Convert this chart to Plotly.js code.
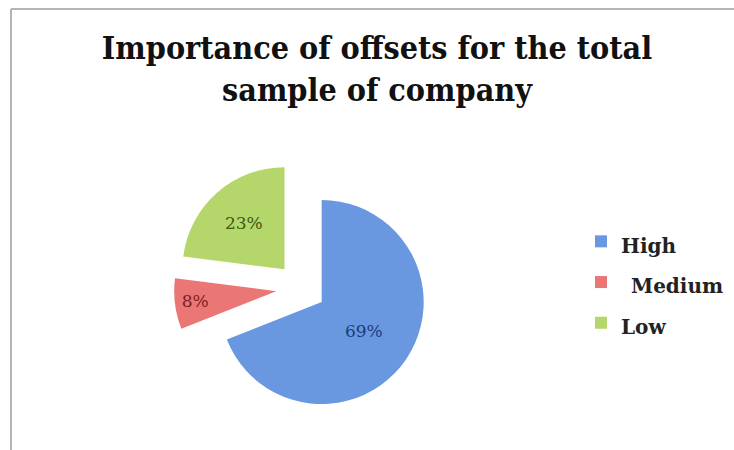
<!DOCTYPE html>
<html>
<head>
<meta charset="utf-8">
<script src="https://cdn.plot.ly/plotly-3.0.1.min.js"></script>
<style>html,body{margin:0;padding:0;background:#fff;}#chart{width:734px;height:450px;}</style>
</head>
<body>
<div id="chart"></div>
<script>
// Data
var categories = ['High', '\u2002Medium', 'Low'];
var shares = [69, 8, 23];
var sliceColors = ['#6a98e0', '#ea7775', '#b5d66a'];
var labelColors = ['#1d3c78', '#7c1f1f', '#3b5a12'];
var pulls = [0.245, 0.245, 0.245];
var chartTitle = 'Importance of offsets for the total<br>sample of company';

var W = 734, H = 450;

var trace = {
  type: 'pie',
  labels: categories.map(function (c) { return '<span style="font-size:20px">' + c + '</span>'; }),
  values: shares,
  sort: false,
  direction: 'clockwise',
  rotation: 0,
  pull: pulls,
  marker: { colors: sliceColors, line: { width: 0 } },
  textinfo: 'percent',
  textposition: 'inside',
  insidetextorientation: 'horizontal',
  insidetextfont: { family: 'DejaVu Serif', size: 17, color: labelColors },
  domain: { x: [174 / W, 428 / W], y: [1 - 415 / H, 1 - 161 / H] },
  hoverinfo: 'label+percent'
};

var layout = {
  width: W, height: H,
  margin: { l: 0, r: 0, t: 0, b: 0 },
  paper_bgcolor: '#ffffff',
  plot_bgcolor: '#ffffff',
  title: {
    text: chartTitle,
    x: 377 / W, xanchor: 'center',
    y: 1 - 59 / H, yanchor: 'top',
    font: { family: 'DejaVu Serif Condensed, DejaVu Serif, serif', size: 32, weight: 'bold', color: '#111111' }
  },
  showlegend: true,
  legend: {
    x: 581 / W, xanchor: 'left',
    y: 1 - 216 / H, yanchor: 'top',
    font: { family: 'DejaVu Serif, serif', size: 29, weight: 'bold', color: '#222222' },
    bgcolor: 'rgba(0,0,0,0)'
  },
  shapes: [
    { type: 'line', xref: 'paper', yref: 'paper', x0: 11 / W, x1: 11 / W, y0: 0, y1: 1 - 9 / H, line: { color: '#b4b4b4', width: 2 } },
    { type: 'line', xref: 'paper', yref: 'paper', x0: 11 / W, x1: 1, y0: 1 - 9 / H, y1: 1 - 9 / H, line: { color: '#b4b4b4', width: 2 } }
  ]
};

Plotly.newPlot('chart', [trace], layout, { displayModeBar: false, staticPlot: true });
</script>
</body>
</html>
